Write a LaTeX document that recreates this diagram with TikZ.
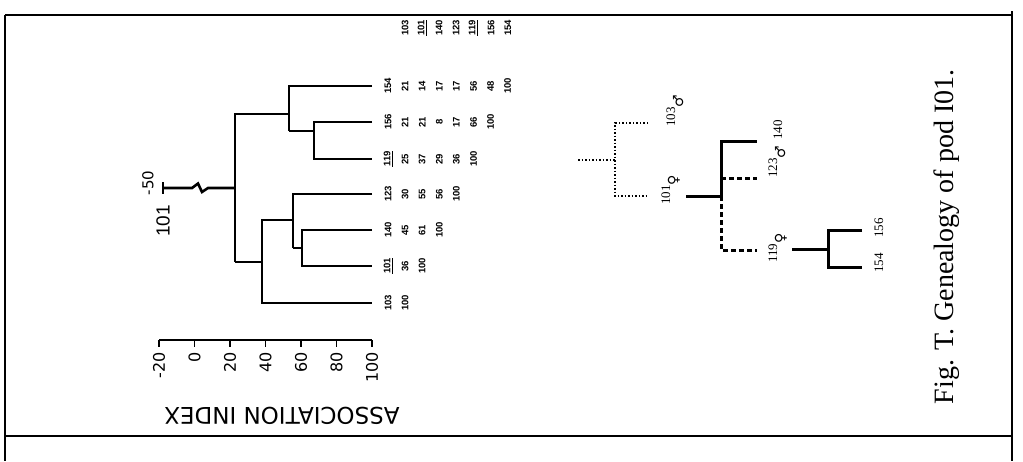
\documentclass[tikz,border=0pt]{standalone}
\usepackage{fontspec}
\setmainfont{Liberation Serif}
\newfontfamily\lettering{DejaVu Sans}
\newfontfamily\numfont{Liberation Sans}
\newfontfamily\symfont{DejaVu Sans}
\newcommand{\male}{\raisebox{-8pt}{\symfont\bfseries\fontsize{14}{14}\selectfont ♂}}
\newcommand{\female}{\raisebox{-8pt}{\symfont\bfseries\fontsize{14}{14}\selectfont ♀}}
\begin{document}
\begin{tikzpicture}[x=1pt,y=-1pt,
  frame/.style={line width=2pt},
  dend/.style={line width=2.6pt},
  num/.style={rotate=90,inner sep=0pt,font=\numfont\bfseries\fontsize{9.5}{10}\selectfont},
  axlab/.style={rotate=90,anchor=east,inner sep=0pt,font=\lettering\fontsize{16}{16}\selectfont},
  gsolid/.style={line width=3pt},
  gdot/.style={line width=1.5pt,dotted},
  gdash/.style={line width=3pt,dash pattern=on 5pt off 3pt},
  glab/.style={rotate=90,anchor=base west,inner sep=0pt,font=\fontsize{13}{13}\selectfont}]
\useasboundingbox (0,0) rectangle (1023,461);
\fill[white] (0,0) rectangle (1023,461);
% frame
\coordinate (fTL) at (5,15); \coordinate (fTR) at (1012,15);
\coordinate (fBL) at (5,461); \coordinate (fBR) at (1012,461);
\coordinate (fML) at (5,436); \coordinate (fMR) at (1012,436);
\draw[frame] (fTL) -- (fTR);
\draw[frame] (fTL) -- (fBL);
\draw[frame] (1012,11) -- (fBR);
\draw[frame] (fML) -- (fMR);
% dendrogram leaves
\coordinate (l154) at (372,86);
\coordinate (l156) at (372,122);
\coordinate (l119) at (372,159);
\coordinate (l123) at (372,194);
\coordinate (l140) at (372,230);
\coordinate (l101) at (372,266);
\coordinate (l103) at (372,303);
\coordinate (a) at (314,131);
\coordinate (b) at (289,114);
\coordinate (c) at (302,248);
\coordinate (d) at (293,220);
\coordinate (e) at (262,262);
\coordinate (r) at (235,188);
\draw[dend] (l156) -- (l156 -| a) -- (l119 -| a) -- (l119);
\draw[dend] (a) -- (a -| b);
\draw[dend] (l154) -- (l154 -| b) -- (a -| b);
\draw[dend] (l140) -- (l140 -| c) -- (l101 -| c) -- (l101);
\draw[dend] (c) -- (c -| d);
\draw[dend] (l123) -- (l123 -| d) -- (c -| d);
\draw[dend] (d) -- (d -| e) -- (l103 -| e) -- (l103);
\draw[dend] (e) -- (e -| r);
\draw[dend] (b) -- (b -| r) -- (e -| r);
\coordinate (s0) at (163,188);
\draw[dend] (s0) -- (192,188) -- (198,183.5) -- (202,192) -- (208,188) -- (r);
\draw[dend] (163,182) -- (163,194);
\node[rotate=90,inner sep=0pt,font=\lettering\fontsize{15}{15}\selectfont] (m50) at (148,183) {-50};
\node[rotate=90,inner sep=0pt,font=\numfont\fontsize{19}{19}\selectfont] (r101) at (163,221) {101};
% axis
\coordinate (ax0) at (159,340); \coordinate (ax1) at (372,340);
\draw[line width=1.8pt] (ax0) -- (ax1);
\foreach \v/\x in {-20/159,0/194.5,20/230,40/265.5,60/301,80/336.5,100/372}{
  \draw[line width=1.8pt] (\x,340) -- (\x,347);
  \node[axlab] at (\x,352) {\v};
}
\node[rotate=180,inner sep=0pt,font=\lettering\fontsize{23}{23}\selectfont] (axt) at (282,416) {ASSOCIATION INDEX};
% matrix
\def\cL{388}
\node[num] at (405,28) {103};
\node[num] at (422,28) {\underline{101}};
\node[num] at (439,28) {140};
\node[num] at (456,28) {123};
\node[num] at (473,28) {\underline{119}};
\node[num] at (491,28) {156};
\node[num] at (508,28) {154};
\foreach \lab/\yy/\vals in {154/86/{21,14,17,17,56,48,100},156/122/{21,21,8,17,66,100},\underline{119}/159/{25,37,29,36,100},123/194/{30,55,56,100},140/230/{45,61,100},\underline{101}/266/{36,100},103/303/{100}}{
  \node[num] at (\cL,\yy) {\lab};
  \foreach \w [count=\k] in \vals {
    \node[num] at (388+17.1*\k,\yy) {\w};
  }
}
% genealogy
\coordinate (g0) at (578,160); \coordinate (g1) at (615,160);
\coordinate (g103) at (648,123); \coordinate (g101) at (648,196);
\draw[gdot] (g0) -- (g1);
\draw[gdot] (g103) -- (g103 -| g1) -- (g101 -| g1) -- (g101);
\node[glab] (n103) at (675,127) {103\male};
\node[glab] (n101) at (670,205) {101\female};
\coordinate (h0) at (686,196); \coordinate (h1) at (721,196);
\coordinate (h140) at (757,141); \coordinate (h123) at (757,178); \coordinate (h119) at (757,250);
\draw[gsolid] (h0) -- (h1) -- (h140 -| h1) -- (h140);
\draw[gdash] (h1) -- (h119 -| h1) -- (h119);
\draw[gdash] (h123 -| h1) -- (h123);
\node[glab] (n140) at (782,140) {140};
\node[glab] (n123) at (777,178) {123\male};
\node[glab] (n119) at (777,263) {119\female};
\coordinate (k0) at (792,249); \coordinate (k1) at (828,249);
\coordinate (k156) at (862,230); \coordinate (k154) at (862,267);
\draw[gsolid] (k0) -- (k1);
\draw[gsolid] (k156) -- (k156 -| k1) -- (k154 -| k1) -- (k154);
\node[glab] (n156) at (883,238) {156};
\node[glab] (n154) at (883,273) {154};
% caption
\node[rotate=90,inner sep=0pt,font=\fontsize{28}{28}\selectfont] (cap) at (947,237) {Fig. T. Genealogy of pod I01.};
\end{tikzpicture}
\end{document}
